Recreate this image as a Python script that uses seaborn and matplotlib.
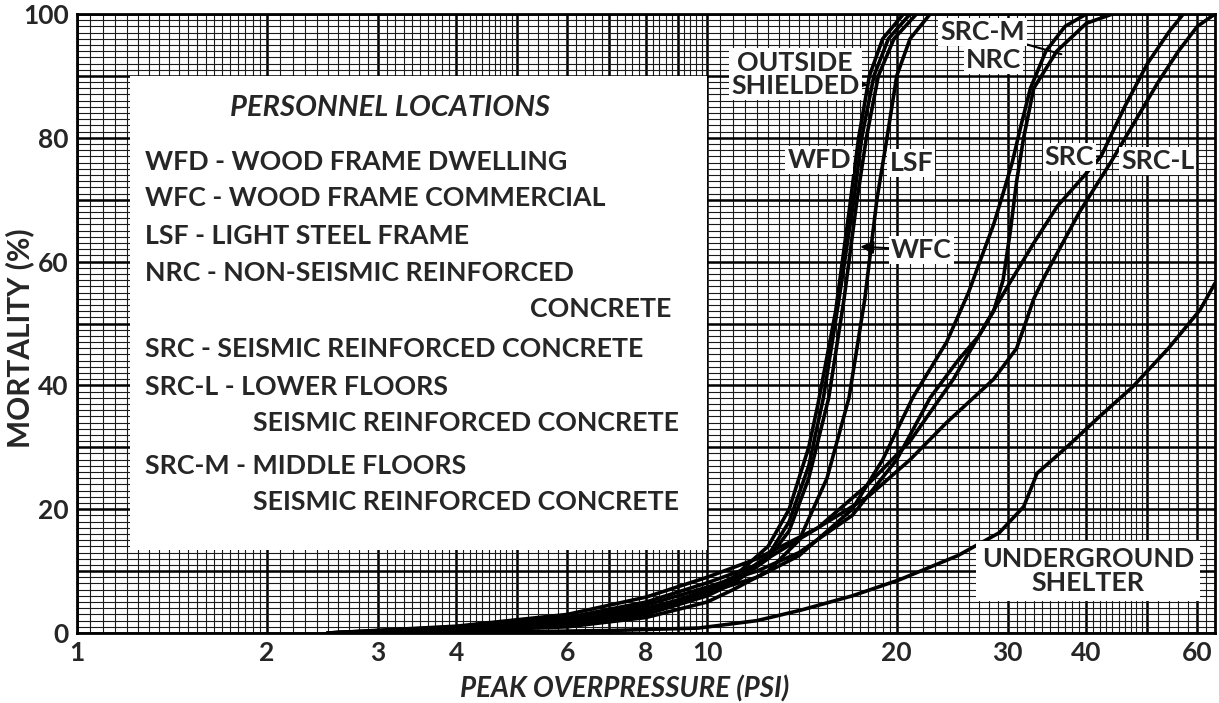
import numpy as np
import pandas as pd
import matplotlib
matplotlib.use("Agg")
import matplotlib.pyplot as plt
import seaborn as sns
from matplotlib.patches import Rectangle

# --- Valores: presión (PSI) y mortalidad (%) ---
os_x = [2.5, 4, 6, 8, 10, 11, 12.5, 13.5, 14.5, 15, 16, 16.8, 17.4, 18.1, 19, 20.5]
os_y = [0, 0.5, 1.5, 3.5, 7, 9, 14, 20, 30, 37, 52, 68, 80, 90, 96, 100]

wfd_x = [2.5, 4, 6, 8, 10, 11, 12.5, 13.5, 14.5, 15.3, 16.2, 17.1, 17.6, 18.4, 19.4, 21]
wfd_y = [0, 0.5, 1.5, 3.5, 6.5, 8.5, 12.5, 18, 27, 38, 54, 70, 80, 90, 96, 100]

wfc_x = [2.8, 4, 6, 8, 10, 11, 12.5, 13.5, 14.5, 15.6, 16.5, 17.3, 17.9, 18.7, 19.8, 21.5]
wfc_y = [0, 0.4, 1.2, 3, 6, 8, 12, 16.5, 25, 38, 54, 70, 80, 90, 96, 100]

lsf_x = [3, 4, 6, 8, 10, 11, 12.5, 14, 15.5, 16.8, 17.8, 18.6, 19.3, 20, 21, 22.6]
lsf_y = [0, 0.3, 1, 2.5, 5, 7, 10, 15, 25, 38, 54, 70, 80, 90, 96, 100]

nrc_x = [2.5, 4, 6, 8, 10, 12, 14, 17, 19, 21.2, 24, 26, 27.1, 28.5, 29.5, 30.5, 31.5, 32.6, 34.5, 37, 40]
nrc_y = [0, 0.7, 2, 4, 6.5, 9, 12.5, 20, 28, 38, 47, 55, 60, 66, 71, 76, 82, 88, 94, 98, 100]

srcm_x = [2.5, 4, 6, 8, 10, 12, 14, 17, 20, 22.6, 25, 27, 28.5, 29.5, 30.3, 31, 31.8, 33, 35.9, 40, 44]
srcm_y = [0, 0.8, 2.2, 4.5, 7.4, 10, 13, 19, 28, 38, 44, 48, 52, 57, 65, 73, 80, 88, 94, 98.5, 100]

src_x = [2.5, 4, 6, 8, 10, 12, 15, 18, 21, 24.6, 27, 30, 33, 36, 39, 42.2, 46, 50, 54, 57]
src_y = [0, 1, 2.5, 5, 8.1, 11, 17, 24, 31, 41, 48, 56, 63, 69, 73, 77, 85, 92, 97, 100]

srcl_x = [2.5, 4, 6, 8, 10, 12, 15, 18, 21, 24, 28.5, 31, 32, 33, 34.5, 39, 43.7, 48, 52, 56, 60, 64]
srcl_y = [0, 1.1, 3, 5.8, 9, 12, 17, 22, 28, 34, 41, 46, 50, 54, 58, 68, 76, 83, 89, 94, 98, 100]

ug_x = [3, 5, 7, 9.7, 12, 14.1, 17, 20.2, 25, 29.1, 31.8, 32.6, 33.4, 37.2, 42, 47.3, 54, 60.6, 64]
ug_y = [0, 0.2, 0.4, 0.8, 2, 3.7, 6, 8.6, 12.5, 16.2, 20.4, 23.1, 25.8, 30, 35, 39.7, 46, 52.2, 56.5]

curves = {
    "OUTSIDE": (os_x, os_y), "WFD": (wfd_x, wfd_y), "WFC": (wfc_x, wfc_y),
    "LSF": (lsf_x, lsf_y), "NRC": (nrc_x, nrc_y), "SRC-M": (srcm_x, srcm_y),
    "SRC": (src_x, src_y), "SRC-L": (srcl_x, srcl_y), "UG": (ug_x, ug_y),
}

x_ticks = [1, 2, 3, 4, 6, 8, 10, 20, 30, 40, 60]
y_ticks = [0, 20, 40, 60, 80, 100]

legend_lines = [
    ("WFD - WOOD FRAME DWELLING", 145, 162),
    ("WFC - WOOD FRAME COMMERCIAL", 145, 198),
    ("LSF - LIGHT STEEL FRAME", 145, 236),
    ("NRC - NON-SEISMIC REINFORCED", 145, 273),
    ("CONCRETE", 530, 309),
    ("SRC - SEISMIC REINFORCED CONCRETE", 145, 349),
    ("SRC-L - LOWER FLOORS", 145, 387),
    ("SEISMIC REINFORCED CONCRETE", 253, 423),
    ("SRC-M - MIDDLE FLOORS", 145, 466),
    ("SEISMIC REINFORCED CONCRETE", 253, 502),
]

rows = []
for name, (xs, ys) in curves.items():
    for a, b in zip(xs, ys):
        rows.append({"psi": a, "mort": b, "curve": name})
df = pd.DataFrame(rows)

sns.set_theme(style="white")
plt.rcParams["font.family"] = ["Lato", "DejaVu Sans"]
plt.rcParams["font.weight"] = "bold"

W, H = 1219, 703
FS = 19.3
fig = plt.figure(figsize=(W / 100, H / 100), dpi=100)
ax = fig.add_axes([77 / W, 1 - 633 / H, (1215 - 77) / W, (633 - 14) / H])
ax.set_xscale("log")
XMAX = 64
ax.set_xlim(1, XMAX)
ax.set_ylim(0, 100)

# --- papel logarítmico ---
minor = []
for d in [1, 10]:
    minor += list(d * np.arange(1, 2, 0.05)) + list(d * np.arange(2, 5, 0.1)) + list(d * np.arange(5, 10, 0.2))
minor = [v for v in minor if v <= XMAX]
major = [v for v in [1, 2, 3, 4, 5, 6, 7, 8, 9, 10, 20, 30, 40, 50, 60] if v <= XMAX]
ax.vlines(minor, 0, 100, color="#1a1a1a", lw=0.8, zorder=0)
ax.vlines(major, 0, 100, color="black", lw=1.8, zorder=0)
ax.hlines(np.arange(0, 101, 1), 1, XMAX, color="#1a1a1a", lw=0.8, zorder=0)
ax.hlines(np.arange(0, 101, 10), 1, XMAX, color="black", lw=1.8, zorder=0)

# recuadro blanco de la leyenda
ax.add_patch(Rectangle((1.214, 13.4), 10 - 1.214, 90 - 13.4, facecolor="white",
                       edgecolor="none", zorder=1))

sns.lineplot(data=df, x="psi", y="mort", hue="curve", units="curve", estimator=None,
             sort=False, palette={k: "black" for k in curves}, lw=2.6, legend=False,
             ax=ax, zorder=3)

for s in ax.spines.values():
    s.set_color("black")
    s.set_linewidth(2)

ax.set_xticks(x_ticks)
ax.set_xticklabels([str(v) for v in x_ticks])
ax.xaxis.set_minor_locator(matplotlib.ticker.NullLocator())
ax.set_yticks(y_ticks)
ax.tick_params(length=0, labelsize=19, pad=6)
for lab in ax.get_xticklabels() + ax.get_yticklabels():
    lab.set_fontweight("bold")
ax.set_xlabel("PEAK OVERPRESSURE (PSI)", fontsize=20, fontweight="bold", style="italic")
ax.xaxis.set_label_coords(0.4815, -0.068)
ax.set_ylabel("MORTALITY (%)", fontsize=21.5, fontweight="bold")
ax.yaxis.set_label_coords(-0.038, 0.476)

# --- textos de la leyenda ---
fig.text(390 / W, 1 - 108 / H, "PERSONNEL LOCATIONS", ha="center", va="center",
         fontsize=21, fontweight="bold", style="italic")
for txt, px, py in legend_lines:
    fig.text(px / W, 1 - py / H, txt, ha="left", va="center", fontsize=FS, fontweight="bold")

# --- etiquetas de curvas ---
box = dict(facecolor="white", edgecolor="none", pad=1.5)
lab_kw = dict(ha="center", va="center", fontsize=FS, fontweight="bold", bbox=box, zorder=5,
              linespacing=0.95)
arrow = dict(arrowstyle="-|>", color="black", lw=1.5, shrinkA=0, shrinkB=0)
ax.annotate("OUTSIDE\nSHIELDED", xy=(18.0, 88.5), xytext=(13.8, 90.3), textcoords="data",
            arrowprops=arrow, **lab_kw)
ax.text(15.06, 76.4, "WFD", **lab_kw)
ax.text(21.1, 75.9, "LSF", **lab_kw)
ax.annotate("WFC", xy=(17.5, 62.4), xytext=(21.9, 61.9), textcoords="data",
            arrowprops=arrow, **lab_kw)
ax.annotate("SRC-M", xy=(36.5, 93.5), xytext=(27.4, 97.1), textcoords="data",
            arrowprops=dict(arrowstyle="-", color="black", lw=1.5, shrinkA=0, shrinkB=0),
            **lab_kw)
ax.text(28.5, 92.6, "NRC", **lab_kw)
ax.annotate("SRC", xy=(42.2, 77.0), xytext=(37.6, 76.9), textcoords="data",
            arrowprops=dict(arrowstyle="-", color="black", lw=1.5, shrinkA=0, shrinkB=0),
            **lab_kw)
ax.text(51.9, 76.2, "SRC-L", **lab_kw)
ax.text(40.2, 10.0, "UNDERGROUND\nSHELTER", ha="center", va="center", fontsize=FS,
        fontweight="bold", zorder=5, linespacing=1.0,
        bbox=dict(facecolor="white", edgecolor="none", pad=4))

fig.savefig("out.png", dpi=100, facecolor="white")
